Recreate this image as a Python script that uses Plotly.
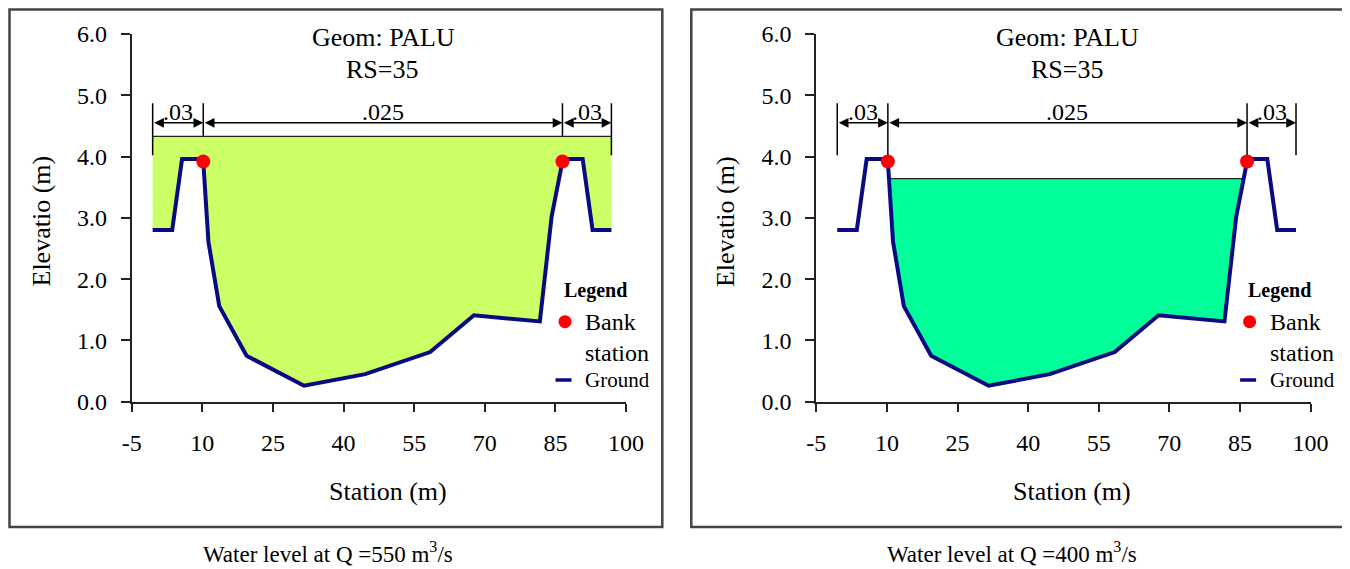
import numpy as np
import plotly.graph_objects as go

# ---------------- data ----------------
station = [-0.55, 3.6, 5.7, 9.7, 10.2, 11.3, 13.6, 19.4, 31.6, 44.6, 58.4,
           67.7, 81.7, 84.2, 86.5, 87.3, 90.8, 92.9, 96.9]
elevation = [2.80, 2.80, 3.96, 3.96, 3.92, 2.61, 1.56, 0.75, 0.26, 0.45, 0.81,
             1.41, 1.31, 3.02, 3.92, 3.96, 3.96, 2.80, 2.80]
bank_stations = [10.2, 86.5]
water_levels = [4.33, 3.64]
discharges = [550, 400]
manning_n = [".03", ".025", ".03"]
x_ticks = [-5, 10, 25, 40, 55, 70, 85, 100]
x_tick_labels = ["-5", "10", "25", "40", "55", "70", "85", "100"]
y_ticks = [0, 1, 2, 3, 4, 5, 6]

# ---------------- style / layout ----------------
OFF = 8                       # page body margin
W, H = 1350 - OFF, 569 - OFF
FONT = "Liberation Serif"
GROUND_COLOR = "#0a0a84"
FILL_COLORS = ["#CCFF66", "#00FF99"]
PANEL_DX = [0.0, 684.6]          # horizontal pixel offset of each panel
AX_X0, AX_X1 = 131.7, 626.0      # axis area (screen px) of first panel
AX_Y0, AX_Y1 = 34.0, 401.7
DIM_TOP, DIM_ARROW, DIM_OUTER_BOTTOM = 4.87, 4.55, 4.02


def px(x):
    return (x - OFF) / W


def py(y):
    return 1 - (y - OFF) / H


def wetted(st, el, wl):
    st = np.asarray(st, float)
    el = np.asarray(el, float)
    i0 = int(np.argmin(el))
    i = i0
    while i > 0 and el[i - 1] < wl:
        i -= 1
    if i > 0:
        xl = st[i - 1] + (wl - el[i - 1]) * (st[i] - st[i - 1]) / (el[i] - el[i - 1])
    else:
        xl = st[0]
    j = i0
    while j < len(el) - 1 and el[j + 1] < wl:
        j += 1
    if j < len(el) - 1:
        xr = st[j] + (wl - el[j]) * (st[j + 1] - st[j]) / (el[j + 1] - el[j])
    else:
        xr = st[-1]
    xs = [xl] + list(st[i:j + 1]) + [xr, xl]
    ys = [wl] + list(el[i:j + 1]) + [wl, wl]
    return xs, ys, xl, xr


def text_ann(x, y, text, size, xanchor="center", bold=False, angle=0):
    return dict(x=px(x), y=py(y), xref="paper", yref="paper",
                text=f"<b>{text}</b>" if bold else text, showarrow=False,
                xanchor=xanchor, yanchor="middle", textangle=angle,
                font=dict(family=FONT, size=size, color="black"))


fig = go.Figure()
annotations = []
shapes = []
bank_elev = list(np.interp(bank_stations, station, elevation))
bounds = [station[0], bank_stations[0], bank_stations[1], station[-1]]

for p in range(2):
    xa = "x" if p == 0 else "x2"
    ya = "y" if p == 0 else "y2"
    dx = PANEL_DX[p]
    wl = water_levels[p]

    # inner (bank) dimension verticals - drawn below the water fill
    for b, be in zip(bank_stations, bank_elev):
        fig.add_trace(go.Scatter(x=[b, b], y=[DIM_TOP, be], mode="lines",
                                 line=dict(color="black", width=1.5),
                                 xaxis=xa, yaxis=ya, showlegend=False, hoverinfo="skip"))

    xs, ys, xl, xr = wetted(station, elevation, wl)
    fig.add_trace(go.Scatter(x=xs, y=ys, mode="lines", fill="toself",
                             fillcolor=FILL_COLORS[p], line=dict(width=0),
                             xaxis=xa, yaxis=ya, showlegend=False, hoverinfo="skip"))
    fig.add_trace(go.Scatter(x=[xl, xr], y=[wl, wl], mode="lines",
                             line=dict(color="#222222", width=1.2),
                             xaxis=xa, yaxis=ya, showlegend=False, hoverinfo="skip"))
    # outer dimension verticals
    for b in (station[0], station[-1]):
        fig.add_trace(go.Scatter(x=[b, b], y=[DIM_TOP, DIM_OUTER_BOTTOM], mode="lines",
                                 line=dict(color="black", width=1.5),
                                 xaxis=xa, yaxis=ya, showlegend=False, hoverinfo="skip"))
    # ground
    fig.add_trace(go.Scatter(x=station, y=elevation, mode="lines",
                             line=dict(color=GROUND_COLOR, width=4),
                             xaxis=xa, yaxis=ya, name="Ground", showlegend=False))
    # bank stations
    fig.add_trace(go.Scatter(x=bank_stations, y=bank_elev, mode="markers",
                             marker=dict(color="#ff0000", size=14),
                             xaxis=xa, yaxis=ya, name="Bank station", showlegend=False))

    # dimension arrows & manning labels
    for k in range(3):
        annotations.append(dict(x=bounds[k + 1], y=DIM_ARROW, ax=bounds[k], ay=DIM_ARROW,
                                xref=xa, yref=ya, axref=xa, ayref=ya, text="",
                                showarrow=True, arrowhead=2, arrowside="end+start",
                                arrowsize=1.3, arrowwidth=1.5, arrowcolor="black",
                                standoff=0, startstandoff=0))
        annotations.append(dict(x=(bounds[k] + bounds[k + 1]) / 2, y=DIM_ARROW,
                                xref=xa, yref=ya, text=manning_n[k], showarrow=False,
                                xanchor="center", yanchor="bottom", yshift=-4,
                                font=dict(family=FONT, size=24, color="black")))

    # titles
    annotations.append(text_ann(383 + dx, 37, "Geom: PALU", 26))
    annotations.append(text_ann(382 + dx, 69, "RS=35", 26))
    # axis titles
    annotations.append(text_ann(41 + dx, 221.5, "Elevatio (m)", 26, angle=-90))
    annotations.append(text_ann(387.5 + dx, 491, "Station (m)", 26))
    # caption
    annotations.append(text_ann(327.5 + dx, 552,
                                f"Water level at Q ={discharges[p]} m<sup>3</sup>/s", 23))
    # legend
    annotations.append(text_ann(561.7 + dx, 290, "Legend", 20, xanchor="left", bold=True))
    annotations.append(text_ann(583 + dx, 321.7, "Bank", 24, xanchor="left"))
    annotations.append(text_ann(583 + dx, 353, "station", 24, xanchor="left"))
    annotations.append(text_ann(583 + dx, 380, "Ground", 21, xanchor="left"))
    shapes.append(dict(type="circle", xref="paper", yref="paper",
                       x0=px(558.5 + dx), x1=px(571.5 + dx), y0=py(328.2), y1=py(315.2),
                       fillcolor="#ff0000", line=dict(width=0)))
    shapes.append(dict(type="line", xref="paper", yref="paper",
                       x0=px(555.5 + dx), x1=px(571.5 + dx), y0=py(380), y1=py(380),
                       line=dict(color=GROUND_COLOR, width=3.5)))
    # panel border (clamped to the drawable page area)
    bx0 = max(6.7 + dx, OFF + 1.5)
    by0 = max(5.0, OFF + 1.5)
    shapes.append(dict(type="rect", xref="paper", yref="paper",
                       x0=px(bx0), x1=px(662.3 + dx), y0=py(527), y1=py(by0),
                       line=dict(color="#444444", width=2.5), fillcolor="rgba(0,0,0,0)"))

axis_common = dict(showgrid=False, zeroline=False, showline=True, linecolor="#222222",
                   linewidth=2, ticks="outside", tickwidth=2, tickcolor="#222222",
                   automargin=False,
                   tickfont=dict(family=FONT, size=24, color="black"))

for p in range(2):
    dx = PANEL_DX[p]
    xkey = "xaxis" if p == 0 else "xaxis2"
    ykey = "yaxis" if p == 0 else "yaxis2"
    fig.update_layout(**{
        xkey: dict(domain=[px(AX_X0 + dx), px(AX_X1 + dx)], range=[-5, 100],
                   tickvals=x_ticks, ticktext=x_tick_labels, ticklen=8,
                   ticklabelstandoff=10,
                   anchor="y" if p == 0 else "y2", **axis_common),
        ykey: dict(domain=[py(AX_Y1), py(AX_Y0)], range=[0, 6], tickvals=y_ticks,
                   tickformat=".1f", ticklen=9, ticklabelstandoff=9,
                   anchor="x" if p == 0 else "x2", **axis_common),
    })

fig.update_layout(width=W, height=H,
                  margin=dict(l=0, r=0, t=0, b=0, pad=0, autoexpand=False),
                  paper_bgcolor="white", plot_bgcolor="rgba(0,0,0,0)",
                  showlegend=False, annotations=annotations, shapes=shapes)

fig.write_html("out.html")
